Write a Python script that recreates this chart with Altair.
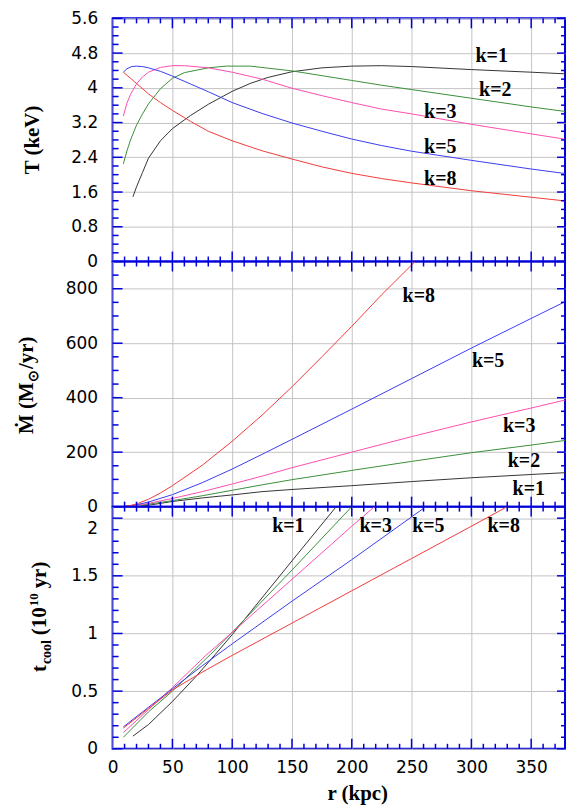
import altair as alt
import pandas as pd

# ---------------- Panel 1: temperature T(r) ----------------
T_r_k1 = [17, 20, 25, 30, 40, 50, 65, 80, 100, 115, 130, 150, 175, 200, 225, 250, 300, 350, 380]
T_v_k1 = [1.49, 1.72, 2.05, 2.38, 2.78, 3.06, 3.36, 3.62, 3.92, 4.10, 4.24, 4.37, 4.46, 4.50, 4.51, 4.49, 4.42, 4.36, 4.32]
T_r_k2 = [9, 12, 15, 20, 25, 30, 40, 50, 60, 80, 95, 115, 150, 175, 200, 225, 250, 300, 350, 380]
T_v_k2 = [2.25, 2.55, 2.80, 3.14, 3.40, 3.63, 3.98, 4.22, 4.35, 4.46, 4.50, 4.50, 4.39, 4.28, 4.17, 4.06, 3.96, 3.76, 3.56, 3.45]
T_r_k3 = [9, 12, 15, 20, 25, 30, 40, 50, 60, 80, 100, 125, 150, 175, 200, 225, 250, 300, 350, 380]
T_v_k3 = [3.35, 3.65, 3.85, 4.09, 4.25, 4.36, 4.47, 4.51, 4.51, 4.46, 4.36, 4.20, 3.99, 3.82, 3.66, 3.51, 3.40, 3.16, 2.94, 2.81]
T_r_k5 = [9, 12, 16, 20, 25, 30, 40, 50, 65, 80, 100, 125, 150, 175, 200, 225, 250, 300, 350, 380]
T_v_k5 = [4.36, 4.44, 4.49, 4.50, 4.49, 4.46, 4.38, 4.27, 4.09, 3.91, 3.66, 3.41, 3.19, 3.00, 2.82, 2.67, 2.54, 2.33, 2.13, 2.02]
T_r_k8 = [9, 15, 20, 30, 40, 50, 65, 80, 100, 125, 150, 175, 200, 225, 250, 300, 350, 380]
T_v_k8 = [4.36, 4.22, 4.10, 3.86, 3.66, 3.48, 3.23, 3.00, 2.78, 2.55, 2.36, 2.18, 2.03, 1.91, 1.81, 1.63, 1.48, 1.39]

# ---------------- Panel 2: mass deposition rate ----------------
M_r_k1 = [17, 30, 50, 75, 100, 125, 150, 200, 250, 300, 350, 380]
M_v_k1 = [0, 5, 19, 32, 43, 55, 63, 77, 92, 106, 118, 125]
M_r_k2 = [9, 20, 30, 50, 75, 100, 125, 150, 200, 250, 300, 350, 380]
M_v_k2 = [0, 4, 9, 22, 40, 60, 80, 99, 133, 166, 198, 226, 244]
M_r_k3 = [9, 20, 30, 50, 75, 100, 125, 150, 200, 250, 300, 350, 380]
M_v_k3 = [0, 5, 12, 30, 55, 83, 112, 143, 200, 257, 311, 362, 393]
M_r_k5 = [9, 20, 30, 50, 75, 100, 125, 150, 200, 250, 300, 350, 380]
M_v_k5 = [0, 7, 17, 44, 88, 138, 192, 247, 358, 470, 582, 691, 756]
M_r_k8 = [9, 15, 20, 30, 40, 50, 75, 100, 125, 150, 175, 200, 225, 253]
M_v_k8 = [1, 4, 10, 27, 50, 77, 152, 240, 336, 440, 550, 662, 778, 900]

# ---------------- Panel 3: cooling time ----------------
C_r_k1 = [17, 30, 50, 70, 86, 100, 150, 187]
C_v_k1 = [0.11, 0.21, 0.41, 0.63, 0.82, 0.99, 1.63, 2.1]
C_r_k2 = [9, 30, 50, 82, 100, 150, 200]
C_v_k2 = [0.10, 0.32, 0.50, 0.82, 1.01, 1.55, 2.1]
C_r_k3 = [9, 30, 50, 79, 100, 150, 200, 219]
C_v_k3 = [0.14, 0.34, 0.53, 0.82, 1.01, 1.47, 1.93, 2.1]
C_r_k5 = [9, 30, 50, 75, 100, 150, 200, 262]
C_v_k5 = [0.19, 0.36, 0.52, 0.72, 0.91, 1.28, 1.64, 2.1]
C_r_k8 = [9, 30, 50, 75, 100, 150, 200, 250, 300, 330]
C_v_k8 = [0.18, 0.35, 0.51, 0.665, 0.81, 1.09, 1.37, 1.65, 1.93, 2.1]

# ---------------- curve labels ----------------
K_NAMES = ["k=1", "k=2", "k=3", "k=5", "k=8"]
K_COLORS = ["#353535", "#3a8f3a", "#ff4db0", "#3c3cf0", "#f23c3c"]

T_lab_k = ["k=1", "k=2", "k=3", "k=5", "k=8"]
T_lab_r = [317, 320, 274, 274, 274]
T_lab_v = [4.74, 3.95, 3.44, 2.64, 1.91]
M_lab_k = ["k=8", "k=5", "k=3", "k=2", "k=1"]
M_lab_r = [256, 314, 340, 344, 348]
M_lab_v = [772, 534, 297, 168, 66]
C_lab_k = ["k=1", "k=3", "k=5", "k=8"]
C_lab_r = [147, 220, 264, 327]
C_lab_v = [1.93, 1.93, 1.93, 1.93]

# ---------------- axis ticks ----------------
X_MAJOR = [0, 50, 100, 150, 200, 250, 300, 350]
X_MINOR = [v for v in range(10, 380, 10) if v % 50 != 0]
T_MAJOR = [0, 0.8, 1.6, 2.4, 3.2, 4.0, 4.8, 5.6]
T_MINOR = [round(0.2 * i, 1) for i in range(1, 28) if i % 4 != 0]
M_MAJOR = [0, 200, 400, 600, 800]
M_MINOR = [50, 100, 150, 250, 300, 350, 450, 500, 550, 650, 700, 750, 850]
C_MAJOR = [0, 0.5, 1, 1.5, 2]
C_MINOR = [round(0.1 * i, 1) for i in range(1, 21) if i % 5 != 0]

W = 454
XMAX = 378.3
BLUE = "#0000dd"
SERIF = "Liberation Serif"


def long_df(series):
    rows = []
    for k, rs, vs in series:
        for r, v in zip(rs, vs):
            rows.append({"k": k, "r": r, "v": v})
    return pd.DataFrame(rows)


def lab_df(ks, rs, vs):
    return pd.DataFrame({"k": ks, "r": rs, "v": vs})


def one():
    return pd.DataFrame({"i": [0]})


def title_piece(text, x, y, size=21, align="left"):
    return alt.Chart(one()).mark_text(
        text=text, angle=270, align=align, baseline="alphabetic",
        font=SERIF, fontSize=size, fontWeight="bold", color="black"
    ).encode(x=alt.value(x), y=alt.value(y))


def panel(df, labs, ydom, H, y_major, y_minor, show_x, extras, yaxis_extra=None):
    xscale = alt.Scale(domain=[0, XMAX], nice=False, zero=False)
    yscale = alt.Scale(domain=ydom, nice=False, zero=False)
    xaxis = alt.Axis(values=X_MAJOR, grid=True, labels=show_x, title=None,
                     labelPadding=11, labelFlush=False, labelOverlap=False)
    ykw = dict(values=y_major, grid=True, title=None, labelPadding=15, format="~r",
               labelFlush=False, labelOverlap=False)
    if yaxis_extra:
        ykw.update(yaxis_extra)
    yaxis = alt.Axis(**ykw)

    def X(f):
        return alt.X(f, type="quantitative", scale=xscale, axis=xaxis)

    def Y(f):
        return alt.Y(f, type="quantitative", scale=yscale, axis=yaxis)

    lines = alt.Chart(df).mark_line(strokeWidth=1, clip=True).encode(
        x=X("r"), y=Y("v"),
        color=alt.Color("k:N", scale=alt.Scale(domain=K_NAMES, range=K_COLORS), legend=None),
        order=alt.Order("r:Q"),
    )
    texts = alt.Chart(labs).mark_text(
        font=SERIF, fontSize=20, fontWeight="bold", color="black",
        align="center", baseline="middle"
    ).encode(x=X("r"), y=Y("v"), text="k:N")

    layers = [lines, texts]
    for vals, ln in ((X_MAJOR[1:], 10), (X_MINOR, 5)):
        d = pd.DataFrame({"t": vals})
        layers.append(alt.Chart(d).mark_rule(color=BLUE, strokeWidth=1.5).encode(
            x=X("t"), y=alt.value(H), y2=alt.value(H - ln)))
        layers.append(alt.Chart(d).mark_rule(color=BLUE, strokeWidth=1.5).encode(
            x=X("t"), y=alt.value(0), y2=alt.value(ln)))
    for vals, ln, lr in ((y_major, 10, 8), (y_minor, 6, 4)):
        d = pd.DataFrame({"t": vals})
        layers.append(alt.Chart(d).mark_rule(color=BLUE, strokeWidth=1.5).encode(
            y=Y("t"), x=alt.value(0), x2=alt.value(ln)))
        layers.append(alt.Chart(d).mark_rule(color=BLUE, strokeWidth=1.5).encode(
            y=Y("t"), x=alt.value(W), x2=alt.value(W - lr)))
    layers += extras
    return alt.layer(*layers).properties(width=W, height=H)


T_df = long_df([("k=1", T_r_k1, T_v_k1), ("k=2", T_r_k2, T_v_k2), ("k=3", T_r_k3, T_v_k3),
                ("k=5", T_r_k5, T_v_k5), ("k=8", T_r_k8, T_v_k8)])
M_df = long_df([("k=1", M_r_k1, M_v_k1), ("k=2", M_r_k2, M_v_k2), ("k=3", M_r_k3, M_v_k3),
                ("k=5", M_r_k5, M_v_k5), ("k=8", M_r_k8, M_v_k8)])
C_df = long_df([("k=1", C_r_k1, C_v_k1), ("k=2", C_r_k2, C_v_k2), ("k=3", C_r_k3, C_v_k3),
                ("k=5", C_r_k5, C_v_k5), ("k=8", C_r_k8, C_v_k8)])

H1, H2, H3 = 244, 246, 243

spacer = alt.Chart(one()).mark_rule(opacity=0).encode(
    x=alt.value(-112), x2=alt.value(-111), y=alt.value(-16), y2=alt.value(-15))

top_extras = [
    spacer,
    title_piece("T (keV)", -74, 122, align="center"),
]
mid_extras = [
    title_piece("\u1e40 (M", -80, 173),
    title_piece("\u2299", -75, 121, size=14),
    title_piece("/yr)", -80, 108),
]
bot_extras = [
    title_piece("t", -67, 166),
    title_piece("cool", -62, 158, size=14),
    title_piece("(10", -67, 129),
    title_piece("10", -75, 100, size=13),
    title_piece("yr)", -67, 82),
    alt.Chart(one()).mark_text(
        text="r (kpc)", font=SERIF, fontSize=21, fontWeight="bold", color="black",
        align="center", baseline="middle"
    ).encode(x=alt.value(246), y=alt.value(288)),
]

p1 = panel(T_df, lab_df(T_lab_k, T_lab_r, T_lab_v), [0, 5.6], H1, T_MAJOR, T_MINOR, False, top_extras)
p2 = panel(M_df, lab_df(M_lab_k, M_lab_r, M_lab_v), [0, 900], H2, M_MAJOR, M_MINOR, False, mid_extras)
p3 = panel(C_df, lab_df(C_lab_k, C_lab_r, C_lab_v), [0, 2.1], H3, C_MAJOR, C_MINOR, True, bot_extras,
           yaxis_extra={"labelOffset": {"condition": {"test": "datum.value == 2", "value": 10}, "value": 0}})

chart = alt.vconcat(p1, p2, p3, spacing=0, bounds="flush").properties(
    padding=0, background="white"
).configure_view(
    stroke=BLUE, strokeWidth=2
).configure_axis(
    domain=False, ticks=False, labelFont="DejaVu Sans", labelFontSize=17,
    labelColor="black", gridColor="#c4c4c4", gridWidth=1
)

chart.save("out.html", embed_options={"renderer": "svg", "actions": False})
